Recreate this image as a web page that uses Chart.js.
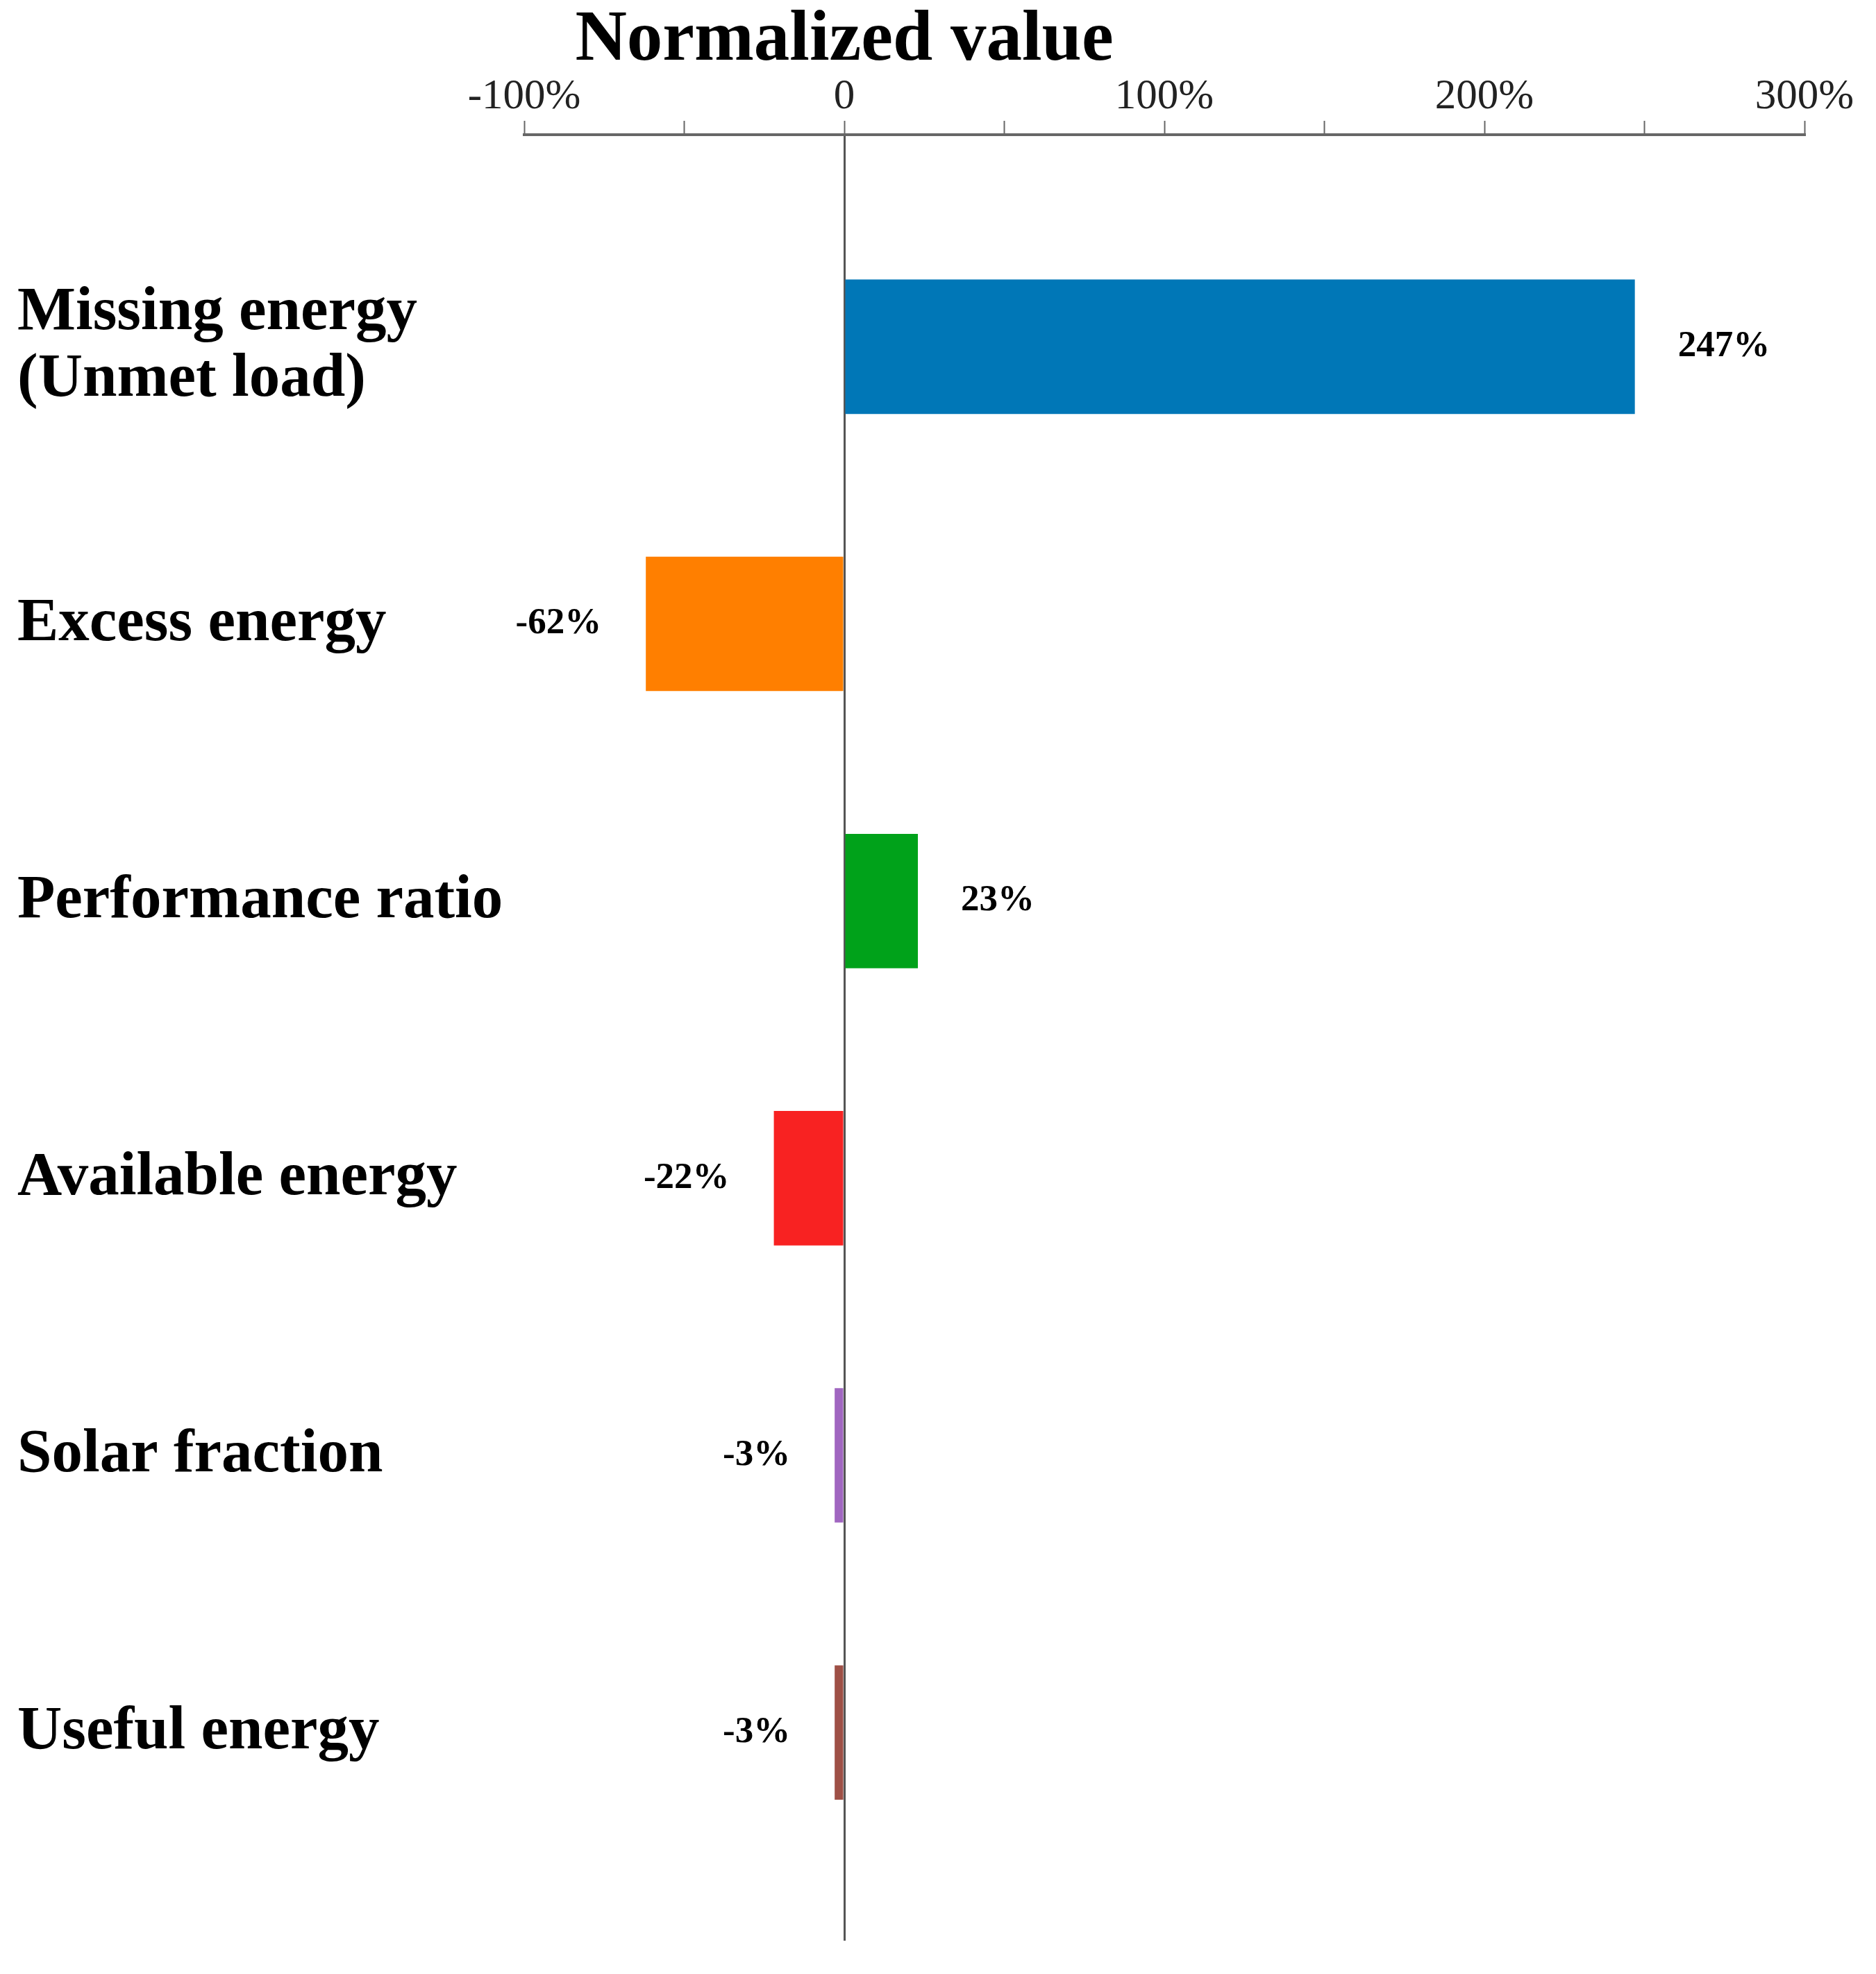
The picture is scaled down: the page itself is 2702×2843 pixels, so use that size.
<!DOCTYPE html>
<html>
<head>
<meta charset="utf-8">
<script src="https://cdn.jsdelivr.net/npm/chart.js@4"></script>
<style>
  html, body { margin: 0; padding: 0; background: #fff; }
  canvas { display: block; }
</style>
</head>
<body>
<canvas id="barChart" width="2702" height="2843" style="width:2702px;height:2843px"></canvas>
<script>
// data
const categories = [['Missing energy', '(Unmet load)'], 'Excess energy', 'Performance ratio', 'Available energy', 'Solar fraction', 'Useful energy'];
const values = [247, -62, 23, -22, -3, -3];
const barColors = ['#0077b7', '#ff7f00', '#00a21a', '#f82222', '#a066c0', '#9e5046'];
const xTicks = [-100, -50, 0, 50, 100, 150, 200, 250, 300];
const xTickLabels = ['-100%', '', '0', '', '100%', '', '200%', '', '300%'];
const axisTitle = 'Normalized value';

const serif = "'Liberation Serif', 'Times New Roman', serif";

// title sits centred over the zero line
const titlePlugin = {
  id: 'topTitle',
  afterDraw(chart) {
    const { ctx } = chart;
    const x = chart.scales.x.getPixelForValue(0);
    ctx.save();
    ctx.font = 'bold 103px ' + serif;
    ctx.fillStyle = '#000';
    ctx.textAlign = 'center';
    ctx.textBaseline = 'alphabetic';
    ctx.fillText(axisTitle, x, 86);
    ctx.restore();
  }
};

// value labels at the outer end of each bar
const valueLabels = {
  id: 'valueLabels',
  afterDatasetsDraw(chart) {
    const { ctx } = chart;
    const meta = chart.getDatasetMeta(0);
    ctx.save();
    ctx.font = 'bold 53px ' + serif;
    ctx.fillStyle = '#000';
    ctx.textBaseline = 'middle';
    meta.data.forEach((bar, i) => {
      const v = values[i];
      if (v >= 0) {
        ctx.textAlign = 'left';
        ctx.fillText(v + '%', bar.x + 62, bar.y);
      } else {
        ctx.textAlign = 'right';
        ctx.fillText(v + '%', bar.x - 64, bar.y);
      }
    });
    ctx.restore();
  }
};

const ctx = document.getElementById('barChart').getContext('2d');

new Chart(ctx, {
  type: 'bar',
  data: {
    datasets: [{
      data: values.map((v, i) => ({ x: v, y: i })),
      backgroundColor: barColors,
      borderWidth: 0,
      categoryPercentage: 1,
      barPercentage: 0.485
    }]
  },
  options: {
    indexAxis: 'y',
    responsive: false,
    devicePixelRatio: 1,
    animation: false,
    layout: { padding: { left: 25, right: 103, top: 0, bottom: 48 } },
    plugins: {
      legend: { display: false },
      tooltip: { enabled: false },
      title: { display: false }
    },
    scales: {
      x: {
        type: 'linear',
        position: 'top',
        min: -100,
        max: 300,
        afterBuildTicks: scale => { scale.ticks = xTicks.map(v => ({ value: v })); },
        afterFit: scale => { scale.height = 194; },
        ticks: {
          autoSkip: false,
          maxRotation: 0,
          padding: 4,
          color: '#222',
          font: { family: serif, size: 61, lineHeight: 1 },
          callback: (v) => xTickLabels[xTicks.indexOf(v)]
        },
        grid: {
          drawOnChartArea: true,
          color: c => (c.tick && c.tick.value === 0) ? '#555' : 'rgba(0,0,0,0)',
          lineWidth: 3,
          tickColor: '#666',
          tickWidth: 2,
          tickLength: 20
        },
        border: { display: true, color: '#666', width: 4 }
      },
      y: {
        type: 'linear',
        reverse: true,
        offset: false,
        min: -0.765,
        max: 5.751,
        afterBuildTicks: scale => { scale.ticks = categories.map((c, i) => ({ value: i })); },
        afterFit: scale => {
          scale.width = 730;
          scale.paddingTop = 0;
          scale.paddingBottom = 0;
        },
        ticks: {
          crossAlign: 'far',
          color: '#000',
          font: { family: serif, size: 89, weight: 'bold', lineHeight: 1.08 },
          callback: (v) => categories[v]
        },
        grid: { display: false, offset: false },
        border: { display: false }
      }
    }
  },
  plugins: [titlePlugin, valueLabels]
});
</script>
</body>
</html>
